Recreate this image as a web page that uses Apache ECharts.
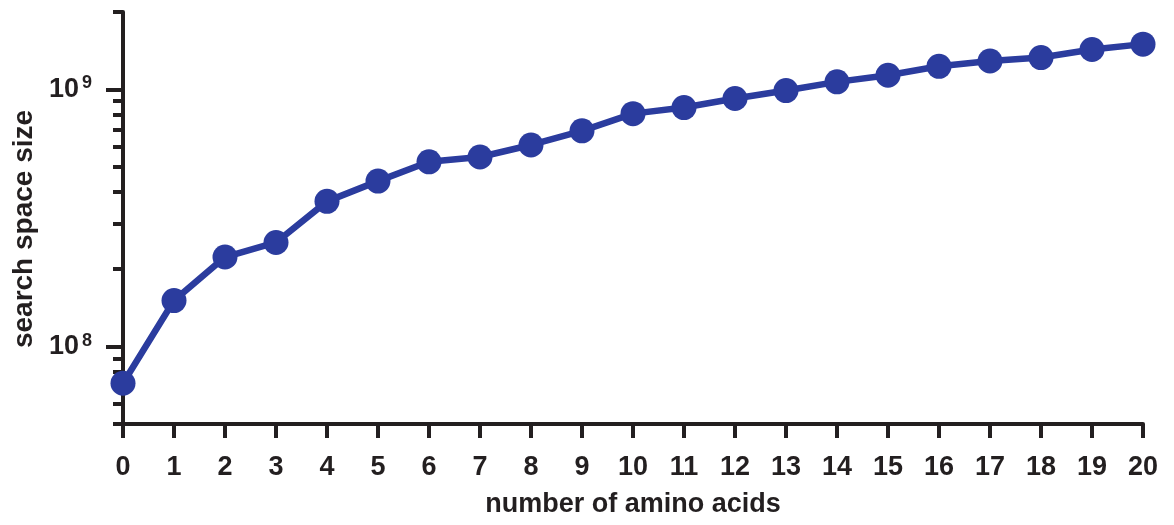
<!DOCTYPE html>
<html>
<head>
<meta charset="utf-8">
<script src="https://cdn.jsdelivr.net/npm/echarts@6/dist/echarts.min.js"></script>
<style>html,body{margin:0;padding:0;background:#fff;}#c{width:1174px;height:525px;}</style>
</head>
<body>
<div id="c"></div>
<script>
const categories = ['0','1','2','3','4','5','6','7','8','9','10','11','12','13','14','15','16','17','18','19','20'];
const searchSpace = [7.2e7, 1.51e8, 2.23e8, 2.54e8, 3.67e8, 4.40e8, 5.23e8, 5.46e8, 6.08e8, 6.90e8, 8.05e8, 8.5e8, 9.22e8, 9.9e8, 1.07e9, 1.135e9, 1.23e9, 1.29e9, 1.33e9, 1.43e9, 1.50e9];
const majorTicks = [1e8, 1e9];
const minorTicks = [5e7, 6e7, 7e7, 8e7, 9e7, 2e8, 3e8, 4e8, 5e8, 6e8, 7e8, 8e8, 9e8, 2e9];
const yMin = 5e7, yMax = 2e9;

const ink = '#231f20';
const font = 'Liberation Sans, Arial, sans-serif';
const chart = echarts.init(document.getElementById('c'));
chart.setOption({
  animation: false,
  backgroundColor: '#fff',
  grid: { left: 123, right: 31, top: 12, bottom: 101 },
  xAxis: {
    type: 'category', data: categories, boundaryGap: false,
    name: 'number of amino acids', nameLocation: 'middle', nameGap: 67,
    nameTextStyle: { color: ink, fontFamily: font, fontWeight: 'bold', fontSize: 27 },
    axisLine: { lineStyle: { color: ink, width: 4 } },
    axisTick: { length: 14, lineStyle: { color: ink, width: 4 }, alignWithLabel: true },
    axisLabel: { color: ink, fontFamily: font, fontWeight: 'bold', fontSize: 27, margin: 30, interval: 0 },
    splitLine: { show: false }
  },
  yAxis: [{
    type: 'log', logBase: 10, min: yMin, max: yMax,
    name: 'search space size', nameLocation: 'middle', nameGap: 82,
    nameTextStyle: { color: ink, fontFamily: font, fontWeight: 'bold', fontSize: 28, padding: [0, 22, 0, 0] },
    axisLine: { show: true, lineStyle: { color: ink, width: 4 } },
    axisTick: { show: true, length: 17, customValues: majorTicks, lineStyle: { color: ink, width: 4 } },
    axisLabel: {
      customValues: majorTicks, margin: 31,
      formatter: function (v) { return '{b|10}{e|' + Math.round(Math.log10(v)) + '}'; },
      rich: {
        b: { color: ink, fontFamily: font, fontWeight: 'bold', fontSize: 27 },
        e: { color: ink, fontFamily: font, fontWeight: 'bold', fontSize: 18, verticalAlign: 'top', padding: [0, 0, 12, 3] }
      }
    },
    splitLine: { show: false }, minorTick: { show: false }
  }, {
    type: 'log', logBase: 10, min: yMin, max: yMax, position: 'left',
    axisLine: { show: false },
    axisTick: { show: true, length: 10, customValues: minorTicks, lineStyle: { color: ink, width: 4 } },
    axisLabel: { show: false },
    splitLine: { show: false }
  }],
  series: [{
    type: 'line', data: searchSpace, yAxisIndex: 0,
    symbol: 'circle', symbolSize: 25,
    lineStyle: { color: '#2b3c9e', width: 6.5 },
    itemStyle: { color: '#2b3c9e' }
  }]
});
</script>
</body>
</html>
